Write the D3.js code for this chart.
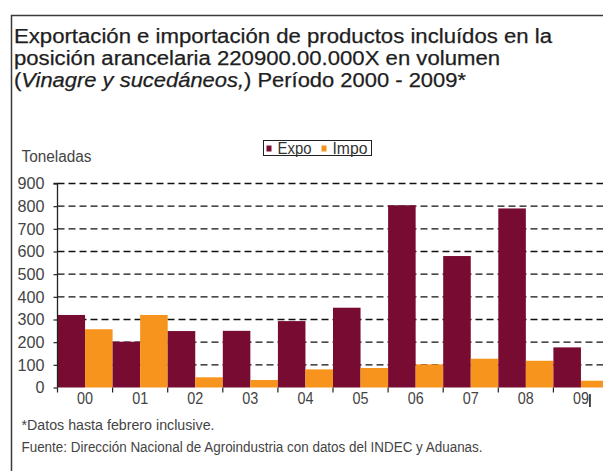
<!DOCTYPE html>
<html>
<head>
<meta charset="utf-8">
<script src="https://cdn.jsdelivr.net/npm/d3@7"></script>
<style>
  html, body { margin: 0; padding: 0; background: #fff; overflow: hidden; }
  svg { display: block; }
  text { font-family: "Liberation Sans Narrow", "Liberation Sans", Arial, sans-serif; }
</style>
</head>
<body>
<svg id="chart" width="603" height="471"></svg>
<script>
// Years (two-digit labels) and tonnage per year
const years = ["00", "01", "02", "03", "04", "05", "06", "07", "08", "09"];
const expo = [320, 202, 249, 250, 293, 352, 804, 580, 790, 177];
const impo = [257, 320, 45, 33, 80, 86, 102, 127, 118, 30];
const seriesNames = ["Expo", "Impo"];
const seriesColors = ["#780b31", "#f7941d"];
const yTicks = [0, 100, 200, 300, 400, 500, 600, 700, 800, 900];

const titleLines = [
  [{ t: "Exportación e importación de productos incluídos en la" }],
  [{ t: "posición arancelaria 220900.00.000X en volumen" }],
  [{ t: "(" }, { t: "Vinagre y sucedáneos,", italic: true }, { t: ") Período 2000 - 2009*" }]
];
const notes = [
  "*Datos hasta febrero inclusive.",
  "Fuente: Dirección Nacional de Agroindustria con datos del INDEC y Aduanas."
];

const svg = d3.select("#chart");

// Outer frame (open at right and bottom)
svg.append("path")
  .attr("d", "M11.5,471 V15.5 H603")
  .attr("fill", "none")
  .attr("stroke", "#3a3a3a")
  .attr("stroke-width", 1.5);

// Title
const titleWidths = [538, 486, 452];
titleLines.forEach((parts, i) => {
  const t = svg.append("text")
    .attr("x", 14)
    .attr("y", 43 + i * 22)
    .attr("font-size", 20)
    .attr("fill", "#1e1e1e")
    .attr("stroke", "#1e1e1e")
    .attr("stroke-width", 0.25)
    .attr("textLength", titleWidths[i])
    .attr("lengthAdjust", "spacingAndGlyphs");
  parts.forEach(p => {
    t.append("tspan")
      .attr("font-style", p.italic ? "italic" : "normal")
      .text(p.t);
  });
});

// Scales
const x = d3.scaleBand().domain(years).range([57.5, 608.5]).padding(0);
const xs = d3.scaleBand().domain(seriesNames).range([0, x.bandwidth()]).padding(0);
const y = d3.scaleLinear().domain([0, 900]).range([387.5, 183.5]);
const color = d3.scaleOrdinal().domain(seriesNames).range(seriesColors);

// Unit label
svg.append("text")
  .attr("x", 21.5).attr("y", 162)
  .attr("font-size", 16).attr("fill", "#444")
  .attr("textLength", 70).attr("lengthAdjust", "spacingAndGlyphs")
  .text("Toneladas");

// Dashed gridlines
svg.append("g")
  .selectAll("line")
  .data(yTicks.filter(d => d > 0))
  .join("line")
  .attr("x1", x.range()[0]).attr("x2", 603)
  .attr("y1", d => y(d)).attr("y2", d => y(d))
  .attr("stroke", "#111")
  .attr("stroke-width", 1.3)
  .attr("stroke-dasharray", "7,4");

// Bars
const rows = years.map((yr, i) => ({ yr, values: [expo[i], impo[i]] }));
svg.append("g")
  .selectAll("g")
  .data(rows)
  .join("g")
  .attr("transform", d => `translate(${x(d.yr)},0)`)
  .selectAll("rect")
  .data(d => d.values.map((v, j) => ({ key: seriesNames[j], v })))
  .join("rect")
  .attr("x", d => xs(d.key))
  .attr("width", xs.bandwidth())
  .attr("y", d => y(d.v))
  .attr("height", d => y(0) - y(d.v))
  .attr("fill", d => color(d.key));

// Y axis
const yAxis = d3.axisLeft(y).tickValues(yTicks).tickSize(4).tickPadding(9);
const gy = svg.append("g")
  .attr("transform", `translate(${x.range()[0]},0)`)
  .call(yAxis);
gy.select(".domain").attr("stroke", "#222").attr("stroke-width", 1.3).attr("d", `M-4,${y(900)}H0V${y(0)}`);
gy.selectAll(".tick line").attr("stroke", "#222").attr("stroke-width", 1.2);
gy.selectAll(".tick text")
  .attr("font-size", 17)
  .attr("fill", "#444")
  .attr("font-family", null)
  .attr("textLength", d => String(d).length * 9)
  .attr("lengthAdjust", "spacingAndGlyphs");

// X axis: ticks at category boundaries, labels centred under each pair
const gx = svg.append("g");
gx.selectAll("line")
  .data(years)
  .join("line")
  .attr("x1", d => x(d)).attr("x2", d => x(d))
  .attr("y1", y(0)).attr("y2", y(0) + 5)
  .attr("stroke", "#222").attr("stroke-width", 1.2);
const xLabels = gx.selectAll("text")
  .data(years)
  .join("text")
  .attr("x", d => x(d) + x.bandwidth() / 2)
  .attr("y", 404)
  .attr("text-anchor", "middle")
  .attr("font-size", 17)
  .attr("fill", "#444")
  .attr("textLength", 16)
  .attr("lengthAdjust", "spacingAndGlyphs")
  .text(d => d);

// Thin vertical stroke following the last year label
const lastBox = xLabels.filter((d, i) => i === years.length - 1).node().getBBox();
svg.append("line")
  .attr("x1", lastBox.x + lastBox.width + 1).attr("x2", lastBox.x + lastBox.width + 1)
  .attr("y1", 394).attr("y2", 407)
  .attr("stroke", "#111").attr("stroke-width", 1.5);

// Legend
const lg = svg.append("g");
lg.append("rect")
  .attr("x", 263.5).attr("y", 140.5).attr("width", 108).attr("height", 15)
  .attr("fill", "#fff").attr("stroke", "#222").attr("stroke-width", 1);
const legendX = [266.5, 321.5];
const legendTextW = [34, 35];
seriesNames.forEach((name, i) => {
  lg.append("rect")
    .attr("x", legendX[i]).attr("y", 145.5).attr("width", 5).attr("height", 6)
    .attr("fill", color(name));
  lg.append("text")
    .attr("x", legendX[i] + 11).attr("y", 153.5)
    .attr("font-size", 16).attr("fill", "#333")
    .attr("textLength", legendTextW[i]).attr("lengthAdjust", "spacingAndGlyphs")
    .text(name);
});

// Notes
const noteWidths = [193, 461];
notes.forEach((n, i) => {
  svg.append("text")
    .attr("x", 21.5).attr("y", 430 + i * 22)
    .attr("font-size", 14).attr("fill", "#444")
    .attr("textLength", noteWidths[i]).attr("lengthAdjust", "spacingAndGlyphs")
    .text(n);
});
</script>
</body>
</html>
